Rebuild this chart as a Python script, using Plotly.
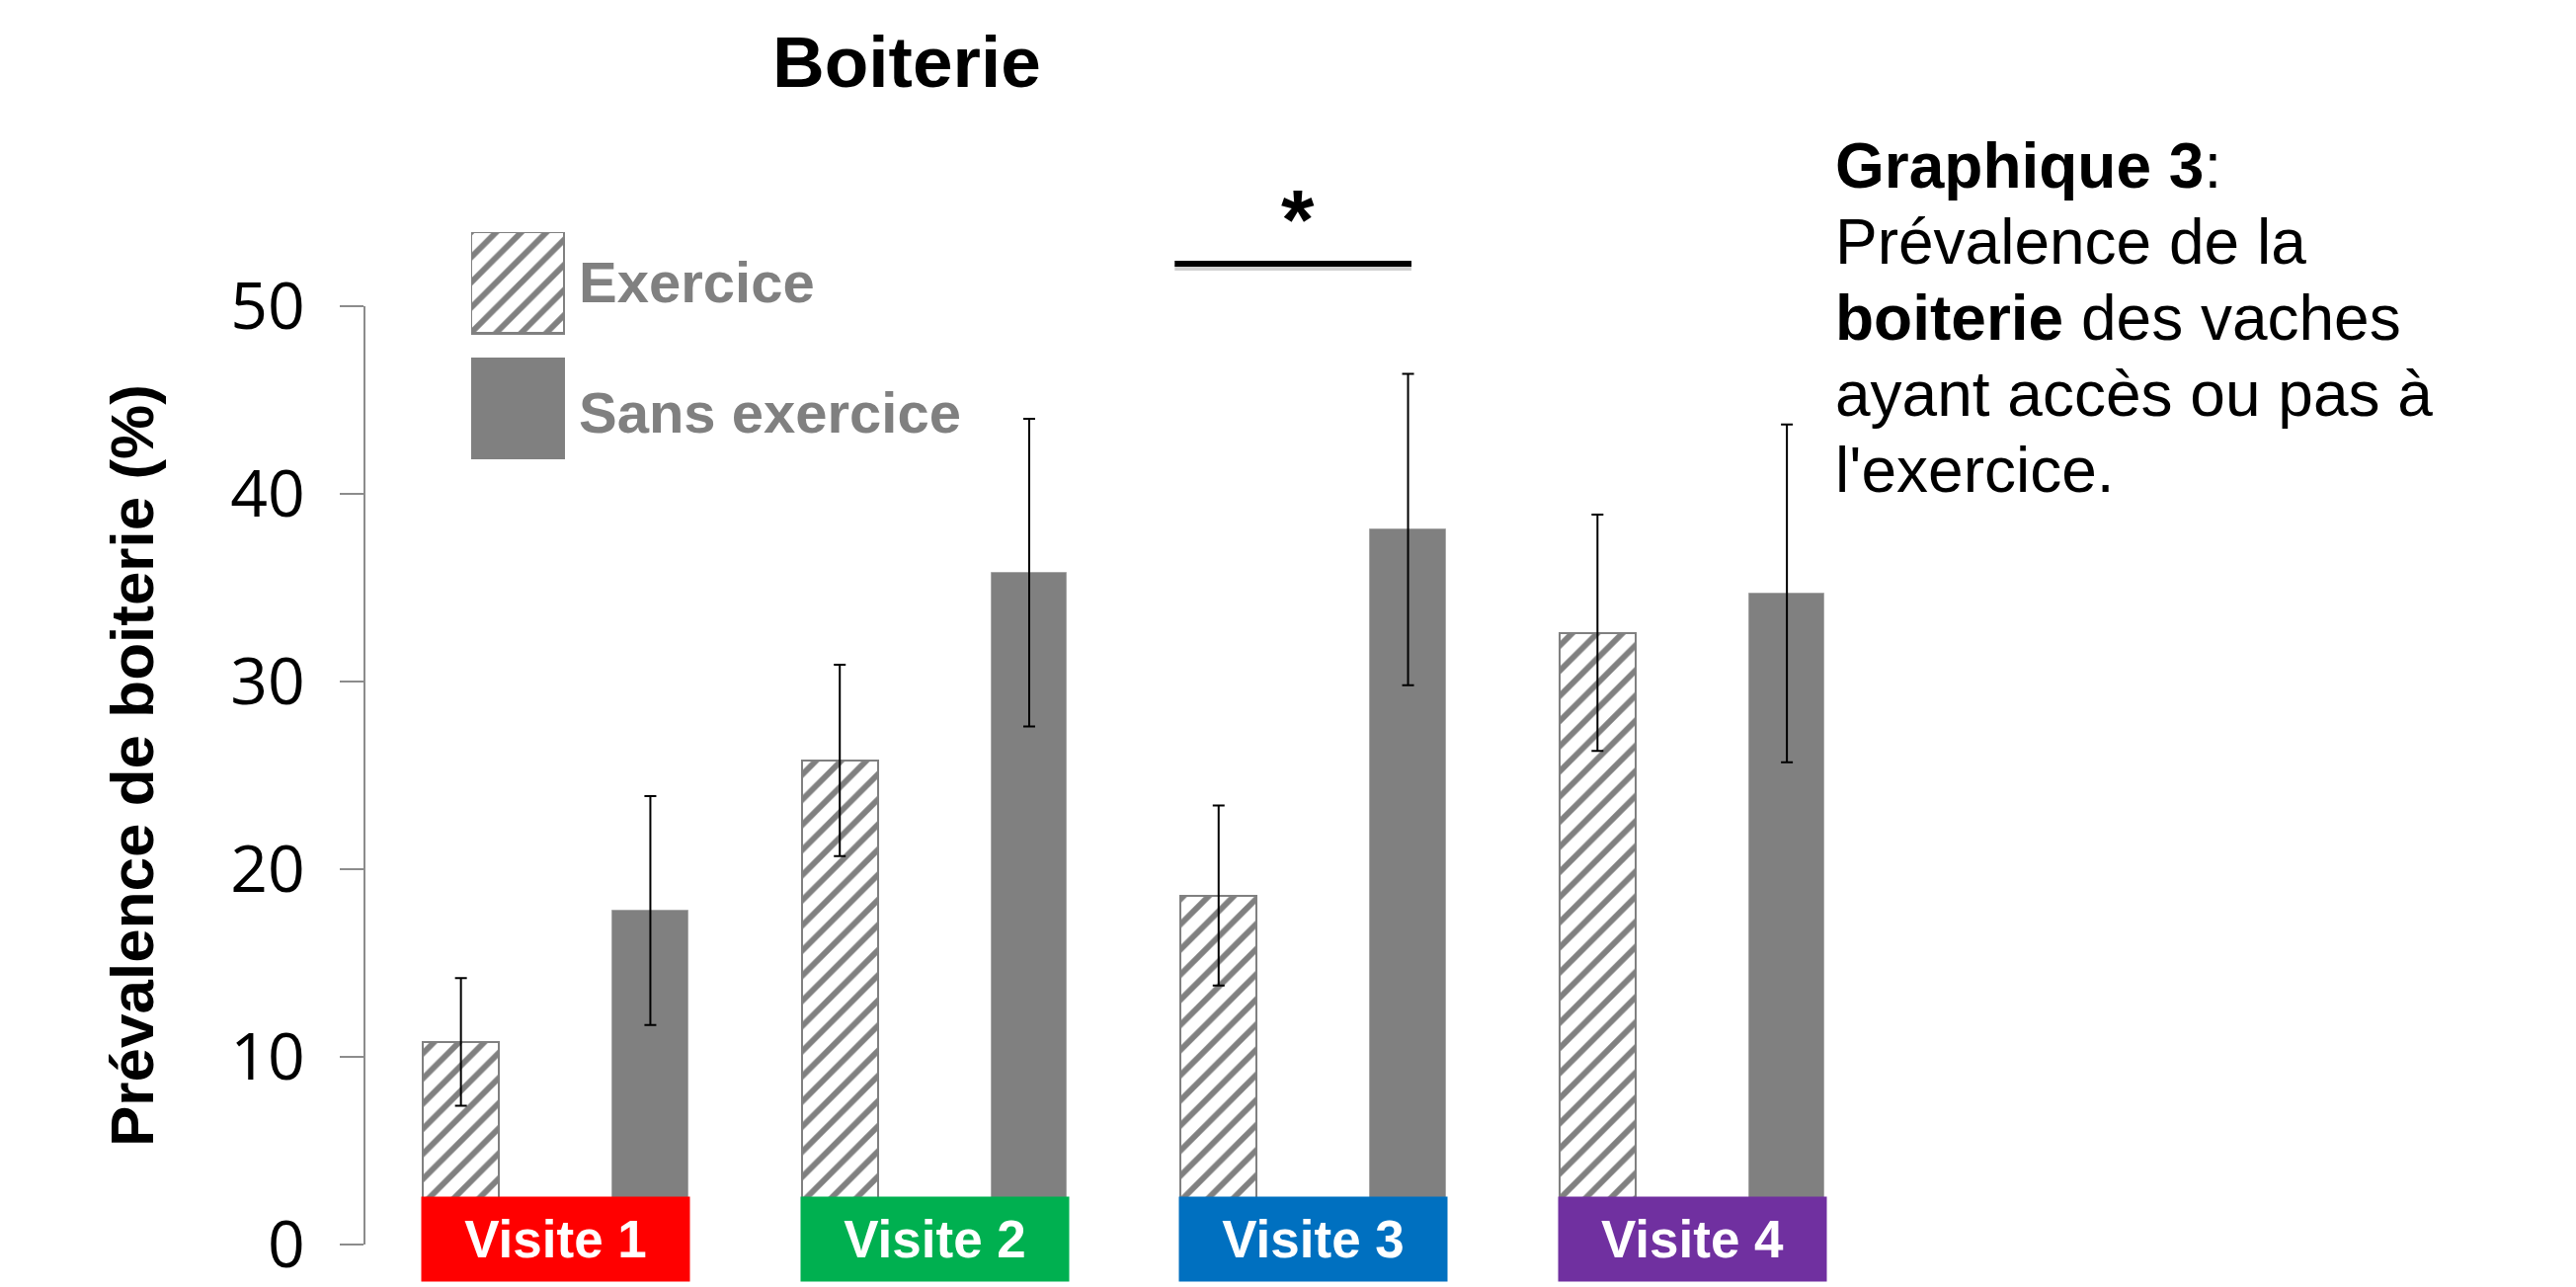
import plotly.graph_objects as go

# ---- data -------------------------------------------------------------
visits = ["Visite 1", "Visite 2", "Visite 3", "Visite 4"]
visit_colors = ["#FF0000", "#00B050", "#0070C0", "#7030A0"]
series_names = ["Exercice", "Sans exercice"]

exercice = [10.8, 25.8, 18.6, 32.6]
exercice_err = [3.4, 5.1, 4.8, 6.3]
sans_exercice = [17.8, 35.8, 38.1, 34.7]
sans_exercice_err = [6.1, 8.2, 8.3, 9.0]

y_ticks = [0, 10, 20, 30, 40, 50]

caption_lines = [
    "<b>Graphique 3</b>:",
    "Prévalence de la",
    "<b>boiterie</b> des vaches",
    "ayant accès ou pas à",
    "l'exercice.",
]

# ---- page geometry (pixels) -------------------------------------------
W, H = 2608, 1303
ML, MR, MT, MB = 370, 703, 60, 43
PLOT_W = W - ML - MR
PAPER_H = H - MT - MB
PLOT_TOP = 310          # pixel row of y = 50
PLOT_BOTTOM = H - MB    # pixel row of y = 0


def px(x):
    return (x - ML) / PLOT_W


def py(y):
    return (PLOT_BOTTOM - y) / PAPER_H


ARIAL = "Liberation Sans, Arial, sans-serif"
GRAY = "#808080"
HATCH = dict(shape="/", size=18, solidity=0.33,
             fgcolor=GRAY, bgcolor="white", fillmode="replace")

fig = go.Figure()

# Exercice bars (hatched)
fig.add_trace(go.Bar(
    x=visits, y=exercice, name=series_names[0],
    width=0.2, offset=-0.35,
    marker=dict(color="white", line=dict(color=GRAY, width=2), pattern=HATCH),
    error_y=dict(type="data", array=exercice_err, color="black",
                 thickness=2, width=6),
    showlegend=False,
))

# Sans exercice bars (solid)
fig.add_trace(go.Bar(
    x=visits, y=sans_exercice, name=series_names[1],
    width=0.2, offset=0.15,
    marker=dict(color=GRAY, line=dict(color="#a6a6a6", width=1)),
    error_y=dict(type="data", array=sans_exercice_err, color="black",
                 thickness=2, width=6),
    showlegend=False,
))

# Legend swatches drawn as a small bar chart of their own
fig.add_trace(go.Bar(
    y=[series_names[0]], x=[1], orientation="h", width=0.811, offset=-0.4055,
    xaxis="x2", yaxis="y2", showlegend=False, hoverinfo="skip",
    marker=dict(color="white", line=dict(color=GRAY, width=3), pattern=HATCH),
))
fig.add_trace(go.Bar(
    y=[series_names[1]], x=[1], orientation="h", width=0.811, offset=-0.4055,
    xaxis="x2", yaxis="y2", showlegend=False, hoverinfo="skip",
    marker=dict(color=GRAY, line=dict(color=GRAY, width=0)),
))

annotations = []

# Legend labels
for name, yc in zip(series_names, [285, 417]):
    annotations.append(dict(
        text=f"<b>{name}</b>", xref="paper", yref="paper",
        x=px(584), y=py(yc), xanchor="left", yanchor="middle",
        showarrow=False, font=dict(family=ARIAL, size=58, color=GRAY),
    ))

# Chart title
annotations.append(dict(
    text="<b>Boiterie</b>", xref="paper", yref="paper",
    x=px(918), y=py(62), xanchor="center", yanchor="middle",
    showarrow=False, font=dict(family=ARIAL, size=73, color="black"),
))

# Y axis title
annotations.append(dict(
    text="<b>Prévalence de boiterie (%)</b>", xref="paper", yref="paper",
    x=px(133), y=py(775), xanchor="center", yanchor="middle",
    textangle=-90, showarrow=False,
    font=dict(family=ARIAL, size=62, color="black"),
))

# Visit labels under the bars
for v, c in zip(visits, visit_colors):
    annotations.append(dict(
        text=f"<b>{v}</b>", xref="x", yref="paper",
        x=v, y=py(1254), xanchor="center", yanchor="middle",
        width=271, height=85, bgcolor=c, borderpad=0,
        showarrow=False, font=dict(family=ARIAL, size=53, color="white"),
    ))

# Caption on the right
for i, line in enumerate(caption_lines):
    annotations.append(dict(
        text=line, xref="paper", yref="paper",
        x=px(1856), y=py(168 + 77 * i), xanchor="left", yanchor="middle",
        showarrow=False, font=dict(family=ARIAL, size=64, color="black"),
    ))

# Significance marker between the two Visite 3 bars
annotations.append(dict(
    text="<b>*</b>", xref="x", yref="paper",
    x=1.96, y=py(222), xanchor="center", yanchor="middle",
    showarrow=False, font=dict(family=ARIAL, size=86, color="black"),
))

shapes = [
    dict(type="line", xref="x", yref="paper", x0=1.634, x1=2.259,
         y0=py(271), y1=py(271), line=dict(color="rgba(0,0,0,0.18)", width=6)),
    dict(type="line", xref="x", yref="paper", x0=1.634, x1=2.259,
         y0=py(267), y1=py(267), line=dict(color="black", width=6)),
]

fig.update_layout(
    width=W, height=H, autosize=False,
    margin=dict(l=ML, r=MR, t=MT, b=MB, pad=0, autoexpand=False),
    paper_bgcolor="white", plot_bgcolor="white",
    barmode="group", bargap=0,
    showlegend=False,
    xaxis=dict(
        type="category", range=[-0.502, 3.5], automargin=False,
        showticklabels=False, showline=False, showgrid=False,
        zeroline=False, ticks="",
    ),
    yaxis=dict(
        domain=[0, (PLOT_BOTTOM - PLOT_TOP) / PAPER_H],
        range=[0, 50], tickvals=y_ticks, automargin=False,
        showgrid=False, zeroline=False,
        showline=True, linecolor="#8c8c8c", linewidth=2,
        ticks="outside", ticklen=24, tickwidth=2, tickcolor="#8c8c8c",
        tickfont=dict(family="Open Sans, sans-serif", size=66, color="black"),
        ticklabelstandoff=22,
    ),
    xaxis2=dict(
        domain=[px(477), px(572)], anchor="y2", range=[0, 1],
        visible=False, fixedrange=True, automargin=False,
    ),
    yaxis2=dict(
        domain=[py(465), py(235)], anchor="x2", type="category",
        categoryarray=series_names, range=[1.4055, -0.4055],
        visible=False, fixedrange=True, automargin=False,
    ),
    annotations=annotations,
    shapes=shapes,
)

fig.write_html("out.html")
